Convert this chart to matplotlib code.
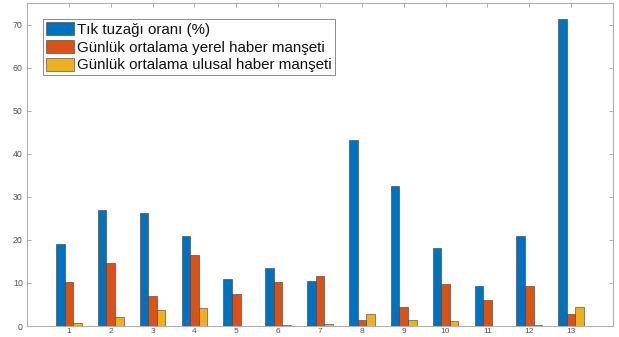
import matplotlib
matplotlib.use("Agg")
import matplotlib.pyplot as plt
import numpy as np

plt.rcParams['font.family'] = ['Liberation Sans', 'DejaVu Sans']

categories = [str(i) for i in range(1, 14)]
tik_tuzagi = [19.1, 27.0, 26.3, 21.0, 11.0, 13.5, 10.5, 43.3, 32.5, 18.0, 9.2, 20.8, 71.2]
yerel = [10.3, 14.6, 6.9, 16.6, 7.5, 10.2, 11.6, 1.3, 4.5, 9.7, 6.0, 9.2, 2.7]
ulusal = [0.6, 2.0, 3.8, 4.2, 0.1, 0.2, 0.4, 2.8, 1.4, 1.2, 0.1, 0.2, 4.5]
series_names = ["Tık tuzağı oranı (%)",
                "Günlük ortalama yerel haber manşeti",
                "Günlük ortalama ulusal haber manşeti"]
yticks = [0, 10, 20, 30, 40, 50, 60, 70]

colors = ["#0072BD", "#D95319", "#EDB120"]

W, H = 619, 337
fig = plt.figure(figsize=(W / 100, H / 100), dpi=100)
ax = fig.add_axes([27 / W, (H - 326) / H, (613 - 27) / W, (326 - 3) / H])

x = np.arange(1, len(categories) + 1)
bw = 0.205
for i, (vals, name) in enumerate(zip([tik_tuzagi, yerel, ulusal], series_names)):
    ax.bar(x + (i - 1) * bw, vals, width=bw, color=colors[i],
           edgecolor="#3a3a3a", linewidth=0.4, label=name, zorder=3)

ax.set_xlim(0, 14)
ax.set_ylim(0, 75)
ax.set_xticks(x)
ax.set_xticklabels(categories)
ax.set_yticks(yticks)

for s in ax.spines.values():
    s.set_color("#b0b0b0")
    s.set_linewidth(0.8)
ax.tick_params(axis="both", direction="in", length=3, width=0.6, color="#a0a0a0",
               labelsize=6.3, labelcolor="#555555", top=True, right=True, pad=3)
ax.tick_params(axis="x", pad=1.2, labelsize=6)

leg = ax.legend(loc="upper left", bbox_to_anchor=(15.5 / 586, 1 - 16 / 323),
                fontsize=10.9, frameon=True, fancybox=False, framealpha=1,
                edgecolor="#8a8a8a", borderpad=0.2, labelspacing=0.2,
                handlelength=1.85, handleheight=0.95, handletextpad=0.22,
                borderaxespad=0)
leg.get_frame().set_linewidth(0.7)
for t in leg.get_texts():
    t.set_color("#111111")

fig.savefig("out.png", dpi=100)
